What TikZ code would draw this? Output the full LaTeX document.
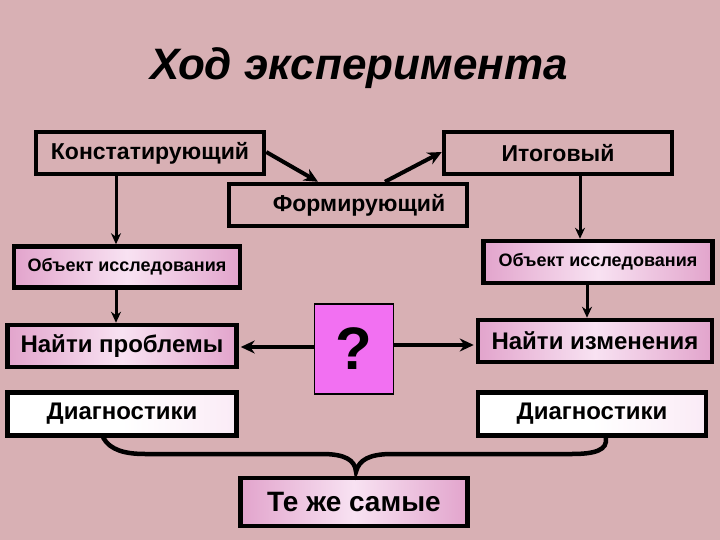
\documentclass[tikz,border=0pt]{standalone}
\usepackage{fontspec}
\setmainfont{Liberation Sans}
\usetikzlibrary{arrows.meta,calc}
\definecolor{bg}{RGB}{216,176,180}
\definecolor{boxpink}{RGB}{226,164,204}
\definecolor{boxlight}{RGB}{248,226,242}
\definecolor{qfill}{RGB}{242,112,242}
\tikzset{
  box/.style={draw=black,line width=4.5pt,inner sep=0pt,font=\bfseries},
  plainbox/.style={box,fill=bg},
  shadebox/.style={box,left color=boxpink,right color=boxpink,middle color=boxlight},
  whitebox/.style={box,left color=white,right color=boxlight!70!white,middle color=white},
  bigarrow/.style={line width=4pt,-{Stealth[length=14pt,width=13pt]}},
  smallarrow/.style={line width=3pt,-{Stealth[length=11pt,width=10pt]}},
  bracel/.style={line width=4.5pt,line cap=round}
}
\begin{document}
\begin{tikzpicture}[x=1pt,y=-1pt]
\fill[bg] (0,0) rectangle (720,540);
\useasboundingbox (0,0) rectangle (720,540);
\node[font=\fontsize{44}{48}\selectfont\bfseries\itshape] (title) at (359,68) {Ход эксперимента};
\node[plainbox,minimum width=228pt,minimum height=42pt,font=\fontsize{23}{26}\selectfont\bfseries] (konst) at (150,153) {Констатирующий};
\node[plainbox,minimum width=228pt,minimum height=42pt,font=\fontsize{23}{26}\selectfont\bfseries] (itog) at (558,153) {Итоговый};
\node[plainbox,minimum width=238pt,minimum height=42pt,font=\fontsize{23}{26}\selectfont\bfseries] (form) at (348,205) {\hspace*{22pt}Формирующий};
\node[shadebox,minimum width=226pt,minimum height=41pt,font=\fontsize{18}{21}\selectfont\bfseries] (obj1) at (127,267) {Объект исследования};
\node[shadebox,minimum width=229pt,minimum height=42pt,font=\fontsize{18}{21}\selectfont\bfseries] (obj2) at (598,262) {Объект исследования};
\node[shadebox,minimum width=229pt,minimum height=42pt,font=\fontsize{24}{28}\selectfont\bfseries] (prob) at (122,346) {Найти проблемы};
\node[draw=black,line width=1.2pt,fill=qfill,minimum width=79pt,minimum height=90pt,font=\fontsize{60}{64}\selectfont\bfseries] (q) at (354,349) {?};
\node[shadebox,minimum width=234pt,minimum height=42pt,font=\fontsize{24}{28}\selectfont\bfseries] (izm) at (595,341) {Найти изменения};
\node[whitebox,minimum width=229pt,minimum height=43pt,font=\fontsize{24}{28}\selectfont\bfseries] (diag1) at (122,414) {Диагностики};
\node[whitebox,minimum width=228pt,minimum height=43pt,font=\fontsize{24}{28}\selectfont\bfseries] (diag2) at (592,414) {Диагностики};
\node[shadebox,minimum width=227pt,minimum height=48pt,font=\fontsize{28}{32}\selectfont\bfseries] (same) at (354,502) {Те же самые};
% connectors
\coordinate (xl) at (116,0);
\coordinate (xr1) at (580,0);
\coordinate (xr2) at (587,0);
\coordinate (fin) at (318,0);
\coordinate (fout) at (385,0);
\draw[bigarrow] ($(konst.east)+(0,-1)$) -- (form.north -| fin);
\draw[bigarrow] (form.north -| fout) -- ($(itog.west)+(0,-1)$);
\draw[smallarrow] (konst.south -| xl) -- (obj1.north -| xl);
\draw[smallarrow] (obj1.south -| xl) -- (prob.north -| xl);
\draw[smallarrow] (itog.south -| xr1) -- (obj2.north -| xr1);
\draw[smallarrow] (obj2.south -| xr2) -- (izm.north -| xr2);
\draw[bigarrow] ($(q.west)+(0,-2)$) -- ($(prob.east)+(2,1)$);
\draw[bigarrow] ($(q.east)+(0,-4)$) -- ($(izm.west)+(-2,4)$);
% brace
\coordinate (bl) at ($(diag1.south west)+(98,0)$);
\coordinate (br) at ($(diag2.south west)+(130,0)$);
\coordinate (peak) at ($(same.north)+(2,-4)$);
\draw[bracel] (bl) .. controls (110,450) and (125,454) .. (145,454) -- (322,454)
  .. controls (345,454) and (355,460) .. (peak)
  .. controls (359,460) and (369,454) .. (392,454) -- (572,454)
  .. controls (595,454) and (608,450) .. (br);
\end{tikzpicture}
\end{document}
